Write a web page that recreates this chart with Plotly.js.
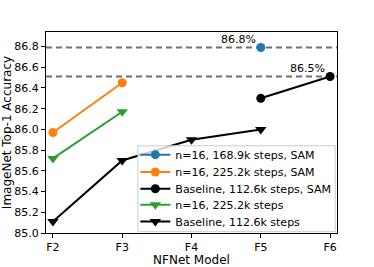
<!DOCTYPE html>
<html><head><meta charset="utf-8">
<script src="https://cdn.plot.ly/plotly-3.0.1.min.js"></script>
<style>html,body{margin:0;padding:0;background:#fff}#c{width:374px;height:267px}</style>
</head><body><div id="c"></div>
<script>
const models = ['F2','F3','F4','F5','F6'];
const samN16_169kX = ['F5'];
const samN16_169kY = [86.79];
const samN16_225kX = ['F2','F3'];
const samN16_225kY = [85.97, 86.45];
const samBaseX = ['F5','F6'];
const samBaseY = [86.30, 86.51];
const n16_225kX = ['F2','F3'];
const n16_225kY = [85.72, 86.17];
const baseX = ['F2','F3','F4','F5'];
const baseY = [85.11, 85.70, 85.90, 86.00];
const refLines = [86.79, 86.51];
const refLabels = ['86.8%', '86.5%'];
const refLabelX = ['F5','F6'];

const font = {family:'DejaVu Sans', color:'#000'};
const legendNames = ['legend','legend2','legend3','legend4','legend5'];
const legendRowY = [0.3896, 0.3035, 0.2204, 0.1408, 0.0577];
function tr(x,y,name,color,sym,size,i){
  return {x:x,y:y,name:name,type:'scatter',mode:'lines+markers',legend:legendNames[i],
    line:{color:color,width:2},marker:{color:color,symbol:sym,size:size},cliponaxis:false};
}
const data = [
  tr(samN16_169kX,samN16_169kY,'n=16, 168.9k steps, SAM','#1f77b4','circle',9,0),
  tr(samN16_225kX,samN16_225kY,'n=16, 225.2k steps, SAM','#ff7f0e','circle',9,1),
  tr(samBaseX,samBaseY,'Baseline, 112.6k steps, SAM','#000000','circle',9,2),
  tr(n16_225kX,n16_225kY,'n=16, 225.2k steps','#2ca02c','triangle-down',10,3),
  tr(baseX,baseY,'Baseline, 112.6k steps','#000000','triangle-down',10,4)
];
const shapes = refLines.map(v=>({type:'line',xref:'paper',x0:0,x1:1,yref:'y',y0:v,y1:v,
  line:{color:'#707070',width:2,dash:'6px,4px'},layer:'below'}));
shapes.push({type:'rect',xref:'paper',yref:'paper',x0:0.3158,x1:0.994,y0:0.0065,y1:0.434,
  fillcolor:'rgba(255,255,255,0.8)',line:{color:'#cccccc',width:1},layer:'above'});
const annotations = refLines.map((v,i)=>({x:refLabelX[i],y:v,xref:'x',yref:'y',text:refLabels[i],
  showarrow:false,xanchor:'right',yanchor:'bottom',xshift:-3,yshift:0,font:{family:'DejaVu Sans',size:11,color:'#000'}}));
const layout = {
  width:374,height:267,margin:{l:46,r:37,t:32,b:34},
  paper_bgcolor:'#fff',plot_bgcolor:'#fff',showlegend:true,
  font:font,
  xaxis:{type:'category',categoryarray:models,range:[-0.1,4.1],showgrid:false,zeroline:false,
    showline:true,linecolor:'#000',linewidth:1,mirror:true,ticks:'outside',ticklen:4,tickcolor:'#000',
    tickfont:{family:'DejaVu Sans',size:11},title:{text:'NFNet Model',font:{family:'DejaVu Sans',size:12},standoff:2}},
  yaxis:{range:[85.0,86.94],dtick:0.2,tickformat:'.1f',showgrid:false,zeroline:false,
    showline:true,linecolor:'#000',linewidth:1,mirror:true,ticks:'outside',ticklen:4,tickcolor:'#000',
    tickfont:{family:'DejaVu Sans',size:11},title:{text:'ImageNet Top-1 Accuracy',font:{family:'DejaVu Sans',size:12},standoff:7}},
  shapes:shapes,annotations:annotations
};
legendNames.forEach((n,i)=>{
  layout[n] = {x:0.307,y:legendRowY[i],xanchor:'left',yanchor:'middle',bgcolor:'rgba(0,0,0,0)',
    borderwidth:0,font:{family:'DejaVu Sans',size:11,color:'#000'},itemwidth:30};
});
Plotly.newPlot('c',data,layout,{displayModeBar:false,staticPlot:true});
</script></body></html>
